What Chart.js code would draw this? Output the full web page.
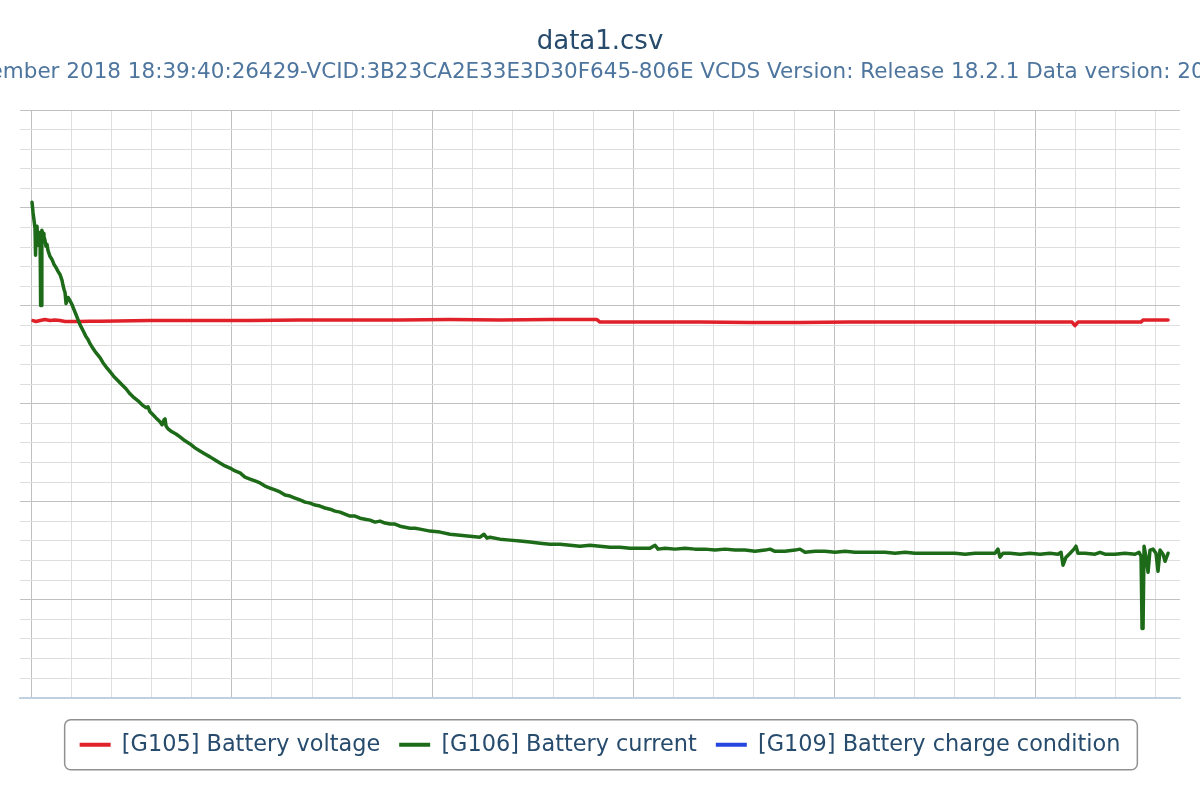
<!DOCTYPE html>
<html>
<head>
<meta charset="utf-8">
<title>data1.csv</title>
<script src="https://cdn.jsdelivr.net/npm/chart.js@4.4.1/dist/chart.umd.min.js"></script>
<style>
  html, body { margin: 0; padding: 0; background: #fff; }
  #wrap { width: 1200px; height: 800px; }
</style>
</head>
<body>
<div id="wrap"><canvas id="grafico" width="1200" height="800"></canvas></div>
<script>
// Textos
const titulo = 'data1.csv';
const subtitulo = 'Monday,03,September 2018 18:39:40:26429-VCID:3B23CA2E33E3D30F645-806E VCDS Version: Release 18.2.1 Data version: 20180706 DS290.0';
const nomesSeries = ['[G105] Battery voltage', '[G106] Battery current', '[G109] Battery charge condition'];
const cores = ['#e0212a', '#1d6b18', '#2746e0'];

// Ticks (sem rótulos visíveis no original)
const xTicks = [0, 4, 8, 12, 16, 20, 24, 28, 32, 36, 40, 44, 48, 52, 56, 60, 64, 68, 72, 76, 80, 84, 88, 92, 96, 100, 104, 108, 112];
const yTicks = [-4, -3, -2, -1, 0, 1, 2, 3, 4, 5, 6, 7, 8, 9, 10, 11, 12, 13, 14, 15, 16, 17, 18, 19, 20, 21, 22, 23, 24, 25];

// [G105] tensão da bateria (V) x tempo (s)
const tensaoTempo = [0.20, 0.50, 0.90, 1.39, 1.89, 2.39, 2.89, 3.39, 3.88, 4.88, 5.88, 6.87, 11.85, 16.83, 21.81, 26.79, 31.77, 36.75, 41.73, 46.71, 51.69, 56.37, 56.67, 61.65, 66.63, 71.61, 76.59, 81.57, 86.55, 91.53, 96.51, 101.49, 103.69, 103.98, 104.28, 107.47, 110.56, 110.76, 113.25];
const tensaoVolts = [14.25, 14.20, 14.25, 14.30, 14.25, 14.28, 14.25, 14.20, 14.20, 14.20, 14.22, 14.22, 14.25, 14.25, 14.25, 14.28, 14.28, 14.28, 14.30, 14.28, 14.30, 14.30, 14.17, 14.17, 14.17, 14.15, 14.15, 14.17, 14.17, 14.17, 14.17, 14.17, 14.17, 13.99, 14.17, 14.17, 14.17, 14.28, 14.28];

// [G106] corrente da bateria (A) x tempo (s)
const correnteTempo = [0.10, 0.20, 0.30, 0.40, 0.45, 0.50, 0.60, 0.70, 0.80, 0.90, 0.96, 1.02, 1.08, 1.20, 1.29, 1.39, 1.49, 1.59, 1.69, 1.89,
  2.09, 2.29, 2.49, 2.69, 2.89, 3.09, 3.19, 3.29, 3.39, 3.49, 3.59, 3.69, 3.88, 4.08, 4.28, 4.48, 4.68, 4.88, 5.18, 5.48,
  5.68, 5.88, 6.18, 6.47, 6.87, 7.17, 7.47, 7.87, 8.27, 8.67, 9.06, 9.46, 9.86, 10.26, 10.66, 11.06, 11.45, 11.65, 11.85, 12.15,
  12.45, 12.85, 13.05, 13.25, 13.35, 13.45, 13.65, 14.04, 14.44, 14.84, 15.34, 15.84, 16.33, 16.83, 17.33, 17.83, 18.33, 18.82, 19.32, 19.82,
  20.32, 20.82, 21.31, 21.81, 22.31, 22.81, 23.31, 23.80, 24.30, 24.80, 25.30, 25.80, 26.29, 26.79, 27.29, 27.79, 28.29, 28.78, 29.28, 29.78,
  30.28, 30.78, 31.27, 31.77, 32.27, 32.77, 33.27, 33.76, 34.26, 34.76, 35.26, 35.76, 36.25, 36.75, 37.25, 37.75, 38.25, 38.75, 39.74, 40.74,
  41.73, 42.73, 43.73, 44.72, 45.12, 45.42, 45.72, 46.71, 47.71, 48.71, 49.70, 50.70, 51.69, 52.69, 53.69, 54.68, 55.68, 56.67, 57.67, 58.67,
  59.66, 60.66, 61.65, 62.15, 62.45, 63.15, 64.14, 65.14, 66.14, 67.13, 68.13, 69.12, 70.12, 71.12, 72.11, 73.11, 73.61, 74.10, 75.10, 76.10,
  76.59, 77.09, 78.09, 79.08, 80.08, 81.08, 82.07, 83.07, 84.06, 85.06, 86.06, 87.05, 88.05, 89.04, 90.04, 91.04, 92.03, 93.03, 94.02, 95.02,
  96.02, 96.31, 96.51, 96.81, 97.51, 98.51, 99.50, 100.50, 101.49, 102.29, 102.59, 102.79, 103.09, 103.49, 103.88, 104.08, 104.28, 104.98, 105.98, 106.47,
  106.97, 107.97, 108.96, 109.96, 110.36, 110.56, 110.66, 110.76, 110.86, 111.06, 111.26, 111.45, 111.75, 112.05, 112.25, 112.45, 112.75, 112.95, 113.25];
const correnteAmps = [20.29, 19.78, 19.37, 18.96, 17.58, 18.75, 19.06, 18.09, 18.55, 18.75, 15.02, 15.02, 18.86, 18.70, 18.55, 18.35, 18.04, 18.14, 17.83, 17.53,
  17.37, 17.12, 16.96, 16.76, 16.60, 16.30, 16.04, 15.84, 15.68, 15.12, 15.27, 15.43, 15.27, 15.07, 14.81, 14.56, 14.30, 14.04, 13.74, 13.43,
  13.28, 13.07, 12.82, 12.61, 12.36, 12.10, 11.89, 11.64, 11.38, 11.18, 10.97, 10.77, 10.51, 10.31, 10.15, 9.95, 9.80, 9.85, 9.59, 9.44,
  9.28, 9.08, 8.93, 9.18, 9.23, 8.87, 8.72, 8.57, 8.46, 8.31, 8.11, 7.95, 7.75, 7.59, 7.44, 7.29, 7.13, 6.98, 6.83, 6.72,
  6.57, 6.47, 6.26, 6.16, 6.06, 5.96, 5.80, 5.70, 5.60, 5.50, 5.34, 5.29, 5.19, 5.09, 4.98, 4.93, 4.83, 4.78, 4.68, 4.62,
  4.52, 4.47, 4.37, 4.27, 4.27, 4.16, 4.11, 4.06, 3.96, 4.01, 3.91, 3.86, 3.86, 3.75, 3.70, 3.65, 3.65, 3.60, 3.50, 3.45,
  3.34, 3.29, 3.24, 3.19, 3.34, 3.14, 3.19, 3.09, 3.04, 2.99, 2.94, 2.88, 2.83, 2.83, 2.78, 2.73, 2.78, 2.73, 2.68, 2.68,
  2.63, 2.63, 2.63, 2.78, 2.58, 2.63, 2.58, 2.63, 2.58, 2.58, 2.53, 2.58, 2.53, 2.53, 2.47, 2.53, 2.58, 2.47, 2.47, 2.53,
  2.58, 2.42, 2.47, 2.47, 2.42, 2.47, 2.42, 2.42, 2.42, 2.42, 2.37, 2.42, 2.37, 2.37, 2.37, 2.37, 2.37, 2.32, 2.37, 2.37,
  2.37, 2.58, 2.17, 2.37, 2.37, 2.32, 2.37, 2.32, 2.37, 2.32, 2.42, 1.76, 2.17, 2.37, 2.58, 2.73, 2.37, 2.37, 2.32, 2.42,
  2.32, 2.32, 2.37, 2.32, 2.42, 2.22, -1.47, -1.47, 2.73, 2.17, 1.40, 2.53, 2.58, 2.37, 1.45, 2.53, 2.32, 1.96, 2.37];

// [G109] estado de carga: nenhum ponto visível no gráfico
const cargaTempo = [];
const cargaValores = [];

function juntar(tempos, valores) {
  return tempos.map((t, i) => ({ x: t, y: valores[i] }));
}

// Títulos e moldura da legenda
const pluginExtras = {
  id: 'extras',
  beforeDraw(chart) {
    const ctx = chart.ctx;
    ctx.save();
    ctx.fillStyle = '#ffffff';
    ctx.fillRect(0, 0, chart.width, chart.height);
    ctx.textAlign = 'center';
    ctx.textBaseline = 'alphabetic';
    ctx.fillStyle = '#274b6d';
    ctx.font = '26px "DejaVu Sans"';
    ctx.fillText(titulo, chart.width / 2, 49);
    ctx.fillStyle = '#4d759e';
    ctx.font = '21.5px "DejaVu Sans"';
    ctx.fillText(subtitulo, chart.width / 2, 78);
    ctx.restore();
  },
  afterDraw(chart) {
    const caixas = chart.legend.legendHitBoxes;
    if (!caixas || !caixas.length) return;
    const primeira = caixas[0];
    const ultima = caixas[caixas.length - 1];
    const centro = primeira.top + primeira.height / 2;
    const x0 = primeira.left - 15;
    const x1 = ultima.left + ultima.width + 17;
    const ctx = chart.ctx;
    ctx.save();
    ctx.strokeStyle = '#909090';
    ctx.lineWidth = 1.5;
    ctx.beginPath();
    ctx.roundRect(x0, centro - 25, x1 - x0, 50, 6);
    ctx.stroke();
    ctx.restore();
  }
};

new Chart(document.getElementById('grafico'), {
  type: 'line',
  data: {
    datasets: [
      {
        label: nomesSeries[0],
        data: juntar(tensaoTempo, tensaoVolts),
        borderColor: cores[0],
        backgroundColor: cores[0],
        borderWidth: 3.5,
        order: 1
      },
      {
        label: nomesSeries[1],
        data: juntar(correnteTempo, correnteAmps),
        borderColor: cores[1],
        backgroundColor: cores[1],
        borderWidth: 3.5,
        order: 0
      },
      {
        label: nomesSeries[2],
        data: juntar(cargaTempo, cargaValores),
        borderColor: cores[2],
        backgroundColor: cores[2],
        borderWidth: 3.5,
        order: 2
      }
    ]
  },
  options: {
    responsive: false,
    animation: false,
    devicePixelRatio: 1,
    elements: {
      point: { radius: 0 },
      line: { tension: 0, borderJoinStyle: 'round', borderCapStyle: 'round' }
    },
    layout: { padding: { top: 110, left: 20, right: 20, bottom: 34 } },
    plugins: {
      title: { display: false },
      tooltip: { enabled: false },
      legend: {
        position: 'bottom',
        labels: {
          font: { family: 'DejaVu Sans', size: 22.4 },
          color: '#274b6d',
          boxWidth: 31,
          boxHeight: 4,
          padding: 19,
          sort: (a, b) => a.datasetIndex - b.datasetIndex,
          generateLabels: function (chart) {
            const itens = Chart.defaults.plugins.legend.labels.generateLabels(chart);
            return itens.map(item => {
              item.lineWidth = 0;
              item.fillStyle = cores[item.datasetIndex];
              return item;
            });
          }
        }
      }
    },
    scales: {
      x: {
        type: 'linear',
        min: -1.096,
        max: 114.44,
        afterBuildTicks: axis => { axis.ticks = xTicks.map(v => ({ value: v })); },
        afterFit: axis => { axis.height = 17; },
        ticks: { display: false },
        grid: {
          color: c => (c.tick && c.tick.value % 20 === 0) ? '#c0c0c0' : '#dedede',
          lineWidth: 1,
          drawTicks: false
        },
        border: { display: true, color: '#c0d0e0', width: 2 }
      },
      y: {
        type: 'linear',
        min: -5,
        max: 25,
        afterBuildTicks: axis => { axis.ticks = yTicks.map(v => ({ value: v })); },
        afterFit: axis => { axis.width = 0; },
        ticks: { display: false },
        grid: {
          color: c => (c.tick && c.tick.value % 5 === 0) ? '#c0c0c0' : '#dedede',
          lineWidth: 1,
          drawTicks: false
        },
        border: { display: false }
      }
    }
  },
  plugins: [pluginExtras]
});
</script>
</body>
</html>
